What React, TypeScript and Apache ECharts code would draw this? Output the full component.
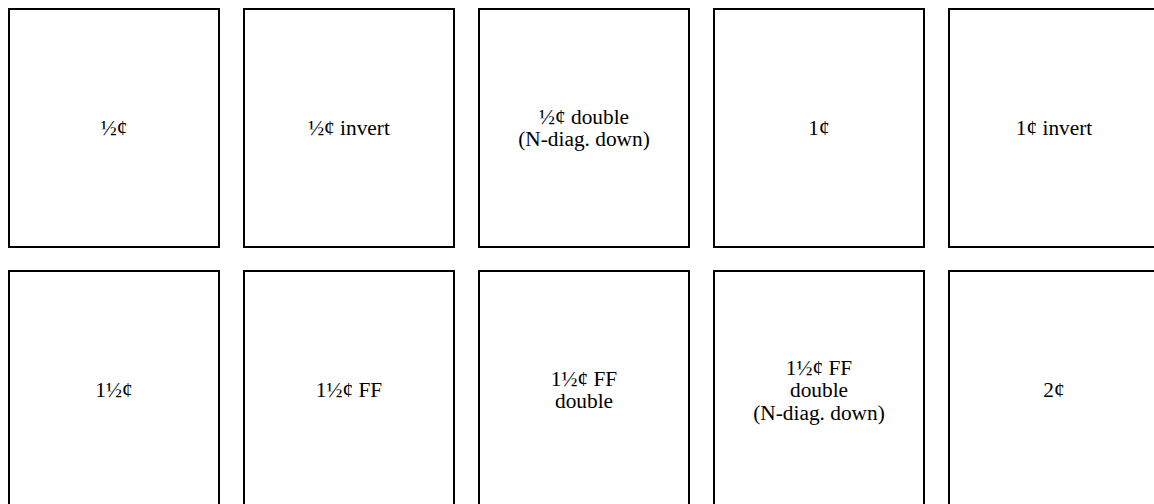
import React, { useEffect, useRef } from "react";
import * as echarts from "echarts";

const row1Labels = ["½¢", "½¢ invert", "½¢ double\n(N-diag. down)", "1¢", "1¢ invert"];
const row2Labels = ["1½¢", "1½¢ FF", "1½¢ FF\ndouble", "1½¢ FF\ndouble\n(N-diag. down)", "2¢"];
const rows = [row1Labels, row2Labels];

export default function App() {
  const ref = useRef<HTMLDivElement>(null);
  useEffect(() => {
    if (!ref.current) return;
    const chart = echarts.init(ref.current, null, { renderer: "svg" });
    const left0 = 9;
    const top0 = 9;
    const w = 210;
    const h = 238;
    const dx = 235;
    const dy = 262;
    const elements: any[] = [];
    rows.forEach((labels, r) => {
      labels.forEach((lab, c) => {
        const x = left0 + c * dx;
        const y = top0 + r * dy;
        elements.push({
          type: "rect",
          shape: { x, y, width: w, height: h },
          style: { fill: "#fff", stroke: "#000", lineWidth: 2 },
        });
        elements.push({
          type: "text",
          x: x + w / 2,
          y: y + h / 2,
          style: {
            text: lab,
            fill: "#000",
            font: '21.33px "Liberation Serif", "Times New Roman", serif',
            align: "center",
            verticalAlign: "middle",
            lineHeight: 22.5,
          },
        });
      });
    });
    chart.setOption({
      animation: false,
      backgroundColor: "#fff",
      graphic: { elements },
    });
    return () => chart.dispose();
  }, []);
  return (
    <div
      ref={ref}
      style={{ position: "fixed", left: 0, top: 0, width: 1154, height: 504 }}
    />
  );
}
